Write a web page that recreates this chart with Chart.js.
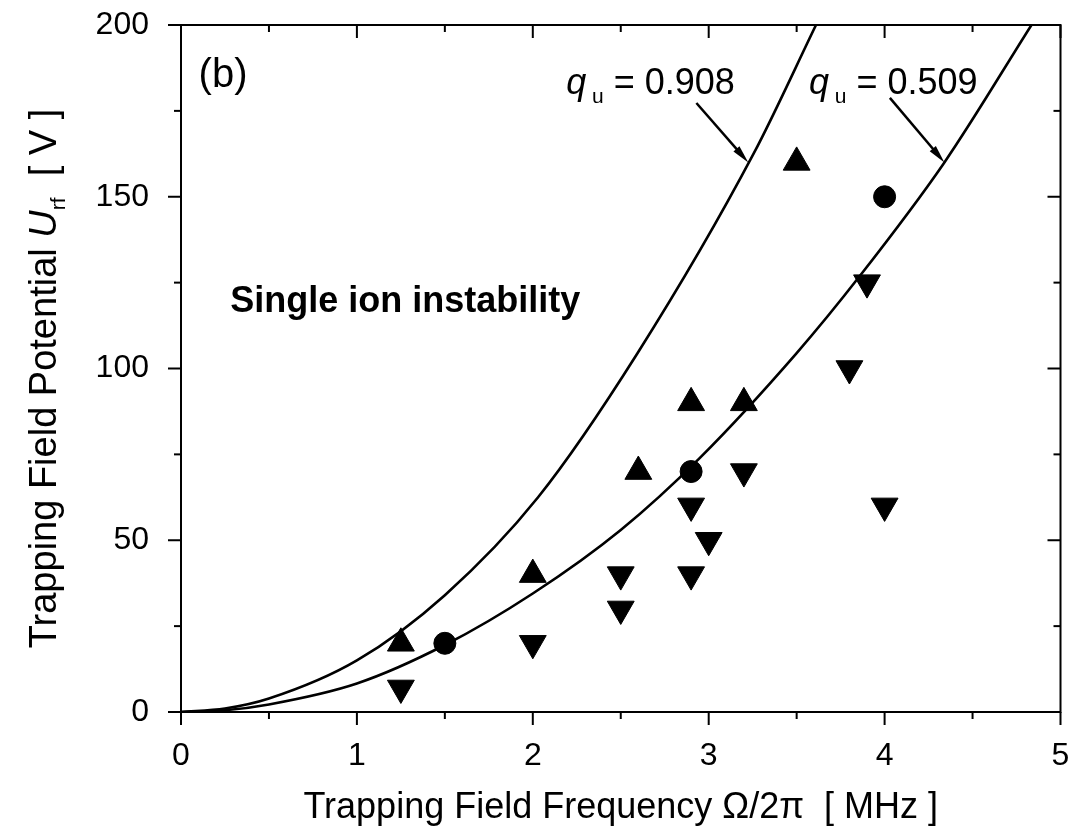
<!DOCTYPE html>
<html>
<head>
<meta charset="utf-8">
<script src="https://cdn.jsdelivr.net/npm/chart.js@4.4.0/dist/chart.umd.min.js"></script>
<style>
  html, body { margin: 0; padding: 0; background: #fff; }
</style>
</head>
<body>
<canvas id="chart" width="1077" height="830"></canvas>
<script>
const FAM = '"Liberation Sans", Arial, Helvetica, sans-serif';

const upX = [1.25, 2.0, 2.6, 2.9, 3.2, 3.5];
const upY = [20, 40, 70, 90, 90, 160];
const dotX = [1.5, 2.9, 4.0];
const dotY = [20, 70, 150];
const downX = [1.25, 2.0, 2.5, 2.5, 2.9, 2.9, 3.0, 3.2, 3.8, 3.9, 4.0];
const downY = [7, 20, 30, 40, 40, 60, 50, 70, 100, 125, 60];

// stability boundary curves
const q908X = [0, 0.25, 0.5, 1.0, 1.5, 2.03, 2.596, 3.256, 3.61];
const q908Y = [0, 1, 3.9, 15, 34, 62.5, 104.5, 162.6, 200];
const q509X = [0, 0.25, 0.5, 1.0, 1.5, 2.0, 2.5, 2.95, 3.5, 3.86, 4.34, 4.835];
const q509Y = [0, 0.5, 2.2, 8.3, 19.5, 34.5, 53, 74, 104.5, 127, 160, 200];

// axes
const xTicks = [0, 1, 2, 3, 4, 5];
const yTicks = [0, 50, 100, 150, 200];
const xMinor = [0.5, 1.5, 2.5, 3.5, 4.5];
const yMinor = [25, 75, 125, 175];

// annotation anchors in data units
const arrows = [
  { from: [2.93, 177.3], to: [3.225, 160] },
  { from: [4.03, 178.8], to: [4.34, 160] }
];
const qLabels = [
  { x: 2.19, y: 180, value: '0.908' },
  { x: 3.57, y: 180, value: '0.509' }
];

const pts = (xs, ys) => xs.map((x, i) => ({ x, y: ys[i] }));

const drawRuns = (ctx, runs, x, y, align) => {
  let total = 0;
  runs.forEach((r) => {
    ctx.font = r.f;
    r.w = ctx.measureText(r.t).width;
    total += r.w;
  });
  let cx = align === 'center' ? x - total / 2 : x;
  runs.forEach((r) => {
    ctx.font = r.f;
    ctx.fillText(r.t, cx, y + (r.dy || 0));
    cx += r.w;
  });
};

const frame = {
  id: 'frame',
  afterDraw(chart) {
    const { ctx, chartArea: a, scales: { x, y } } = chart;
    ctx.save();
    ctx.strokeStyle = '#000';
    ctx.fillStyle = '#000';
    ctx.lineWidth = 2;
    ctx.strokeRect(a.left, a.top, a.right - a.left, a.bottom - a.top);

    const tick = (x1, y1, x2, y2) => {
      ctx.beginPath();
      ctx.moveTo(x1, y1);
      ctx.lineTo(x2, y2);
      ctx.stroke();
    };
    xTicks.forEach((v) => {
      const px = x.getPixelForValue(v);
      tick(px, a.bottom, px, a.bottom + 13);
      tick(px, a.top, px, a.top + 13);
    });
    xMinor.forEach((v) => {
      const px = x.getPixelForValue(v);
      tick(px, a.bottom, px, a.bottom + 7);
      tick(px, a.top, px, a.top + 7);
    });
    yTicks.forEach((v) => {
      const py = y.getPixelForValue(v);
      tick(a.left - 13, py, a.left, py);
      tick(a.right - 13, py, a.right, py);
    });
    yMinor.forEach((v) => {
      const py = y.getPixelForValue(v);
      tick(a.left - 7, py, a.left, py);
      tick(a.right - 7, py, a.right, py);
    });

    // arrows to the curves
    ctx.lineWidth = 2.5;
    arrows.forEach(({ from, to }) => {
      const x1 = x.getPixelForValue(from[0]), y1 = y.getPixelForValue(from[1]);
      const x2 = x.getPixelForValue(to[0]), y2 = y.getPixelForValue(to[1]);
      const ang = Math.atan2(y2 - y1, x2 - x1);
      tick(x1, y1, x2 - Math.cos(ang) * 8, y2 - Math.sin(ang) * 8);
      ctx.beginPath();
      ctx.moveTo(x2, y2);
      ctx.lineTo(x2 - 18 * Math.cos(ang) + 4 * Math.sin(ang), y2 - 18 * Math.sin(ang) - 4 * Math.cos(ang));
      ctx.lineTo(x2 - 18 * Math.cos(ang) - 4 * Math.sin(ang), y2 - 18 * Math.sin(ang) + 4 * Math.cos(ang));
      ctx.closePath();
      ctx.fill();
    });

    ctx.textBaseline = 'alphabetic';
    qLabels.forEach((l) => {
      drawRuns(ctx, [
        { t: 'q', f: 'italic 36px ' + FAM },
        { t: ' u', f: '21px ' + FAM, dy: 9 },
        { t: ' = ' + l.value, f: '36px ' + FAM }
      ], x.getPixelForValue(l.x), y.getPixelForValue(l.y), 'left');
    });

    ctx.font = '40px ' + FAM;
    ctx.fillText('(b)', x.getPixelForValue(0.1), y.getPixelForValue(182));
    ctx.font = 'bold 36px ' + FAM;
    ctx.fillText('Single ion instability', x.getPixelForValue(0.28), y.getPixelForValue(116.4));

    // axis titles
    drawRuns(ctx, [
      { t: 'Trapping Field Frequency \u03A9/2\u03C0  [ MHz ]', f: '36px ' + FAM }
    ], (a.left + a.right) / 2, 818, 'center');

    ctx.translate(56, (a.top + a.bottom) / 2 + 10);
    ctx.rotate(-Math.PI / 2);
    drawRuns(ctx, [
      { t: 'Trapping Field Potential ', f: '38px ' + FAM },
      { t: 'U', f: 'italic 38px ' + FAM },
      { t: 'rf', f: '21px ' + FAM, dy: 9 },
      { t: '  [ V ]', f: '38px ' + FAM }
    ], 0, 0, 'center');
    ctx.restore();
  }
};

const marker = (style, rot, r) => ({
  type: 'scatter',
  pointStyle: style,
  rotation: rot,
  pointRadius: r,
  pointHoverRadius: r,
  backgroundColor: '#000',
  borderColor: '#000',
  borderWidth: 1
});

const curve = (data) => ({
  type: 'line',
  data,
  borderColor: '#000',
  borderWidth: 2.6,
  pointRadius: 0,
  fill: false,
  cubicInterpolationMode: 'monotone'
});

new Chart(document.getElementById('chart'), {
  data: {
    datasets: [
      { ...marker('triangle', 0, 15.5), data: pts(upX, upY) },
      { ...marker('circle', 0, 11), data: pts(dotX, dotY) },
      { ...marker('triangle', 180, 15.5), data: pts(downX, downY) },
      curve(pts(q908X, q908Y)),
      curve(pts(q509X, q509Y))
    ]
  },
  options: {
    responsive: false,
    animation: false,
    layout: { padding: { left: 0, right: 12, top: 25, bottom: 0 } },
    plugins: { legend: { display: false }, tooltip: { enabled: false } },
    scales: {
      x: {
        type: 'linear',
        min: 0,
        max: 5,
        grid: { display: false },
        border: { display: false },
        afterBuildTicks: (s) => { s.ticks = xTicks.map((v) => ({ value: v })); },
        afterFit: (s) => { s.height = 118; s.paddingLeft = 0; s.paddingRight = 0; },
        ticks: { color: '#000', padding: 17, font: { family: FAM, size: 32 } }
      },
      y: {
        type: 'linear',
        min: 0,
        max: 200,
        grid: { display: false },
        border: { display: false },
        afterBuildTicks: (s) => { s.ticks = yTicks.map((v) => ({ value: v })); },
        afterFit: (s) => { s.width = 181; s.paddingTop = 0; s.paddingBottom = 0; },
        ticks: { color: '#000', padding: 24, font: { family: FAM, size: 32 } }
      }
    }
  },
  plugins: [frame]
});
</script>
</body>
</html>
